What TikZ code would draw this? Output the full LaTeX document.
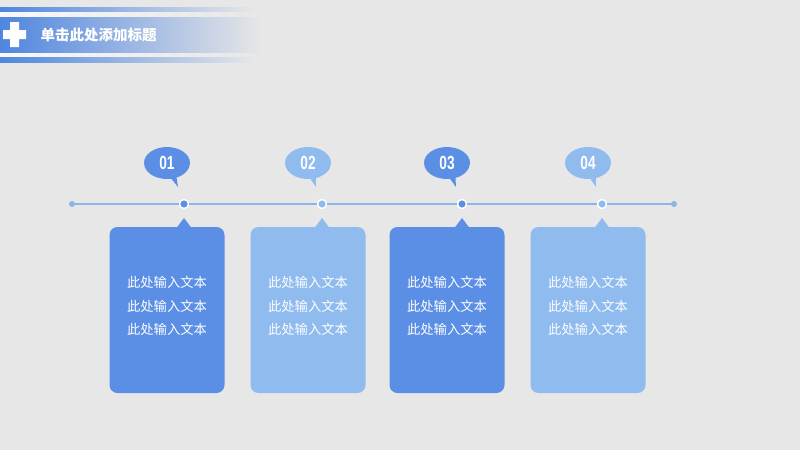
\documentclass[tikz,border=0pt]{standalone}
\usepackage{fontspec}
\setmainfont{Noto Sans CJK SC}
\newfontfamily\numfont[FakeStretch=0.72]{Liberation Sans}
\usetikzlibrary{shapes.callouts,positioning,calc}
\definecolor{bg}{HTML}{E7E7E7}
\definecolor{deepblue}{HTML}{5B8FE6}
\definecolor{paleblue}{HTML}{8FBBEE}
\definecolor{lineblue}{HTML}{8DB5E8}
\definecolor{barblue}{HTML}{4F86DF}

\begin{document}
\begin{tikzpicture}[x=1pt,y=-1pt,font=\fontsize{12}{14}\selectfont,
  dot/.style={circle,inner sep=0pt,minimum size=9pt,draw=white,line width=1.5pt},
  bubble/.style={ellipse callout,inner sep=0pt,minimum width=46pt,minimum height=32pt,
    callout pointer arc=14,text=white,font=\numfont\bfseries\fontsize{19}{19}\selectfont},
  card/.style={rectangle,rounded corners=8pt,minimum width=115pt,minimum height=166pt},
  cardtext/.style={text=white,align=center,font=\fontsize{13.3}{23.5}\selectfont}]
\useasboundingbox[fill=bg] (0,0) rectangle (800,450);
% title bar
\shade[left color=barblue,right color=bg] (0,7) rectangle (255,12);
\shade[left color=white!70!bg,right color=bg] (0,12) rectangle (255,17);
\shade[left color=barblue,middle color=barblue!60!bg,right color=bg] (0,17) rectangle (262,53);
\shade[left color=white!70!bg,right color=bg] (0,53) rectangle (255,57);
\shade[left color=barblue,right color=bg] (0,57) rectangle (255,62);
\fill[white] (10,22) rectangle (19,47) (3,30) rectangle (26,39);
\node[anchor=west,text=white,font=\bfseries\fontsize{14.5}{14.5}\selectfont] (title) at (37,35) {单击此处添加标题};
% timeline
\coordinate (tl-l) at (72,204);
\coordinate (tl-r) at (674,204);
\fill[lineblue] (tl-l) circle (3) (tl-r) circle (3);
\foreach \i/\x/\o/\c in {1/184/-17/deepblue,2/322/-14/paleblue,3/462/-15/deepblue,4/602/-14/paleblue}{
  \node[dot,fill=\c] (d\i) at (\x,204) {};
  \node[bubble,fill=\c,callout absolute pointer={($(d\i)+(-6,-17)$)}] (b\i) at ($(d\i)+(\o,-41)$) {0\i};
  \node[card,fill=\c] (c\i) at ($(d\i)+(\o,106)$) {};
  \node[cardtext] (t\i) at ($(c\i)+(0,-4)$) {此处输入文本\\此处输入文本\\此处输入文本};
  \fill[\c] ($(c\i.north)+(-\o-7,0.5)$) -- ($(d\i)+(0,14)$) -- ($(c\i.north)+(-\o+7,0.5)$) -- cycle;
}
\draw[lineblue,line width=2pt] (tl-l) -- (d1) -- (d2) -- (d3) -- (d4) -- (tl-r);
\end{tikzpicture}
\end{document}
